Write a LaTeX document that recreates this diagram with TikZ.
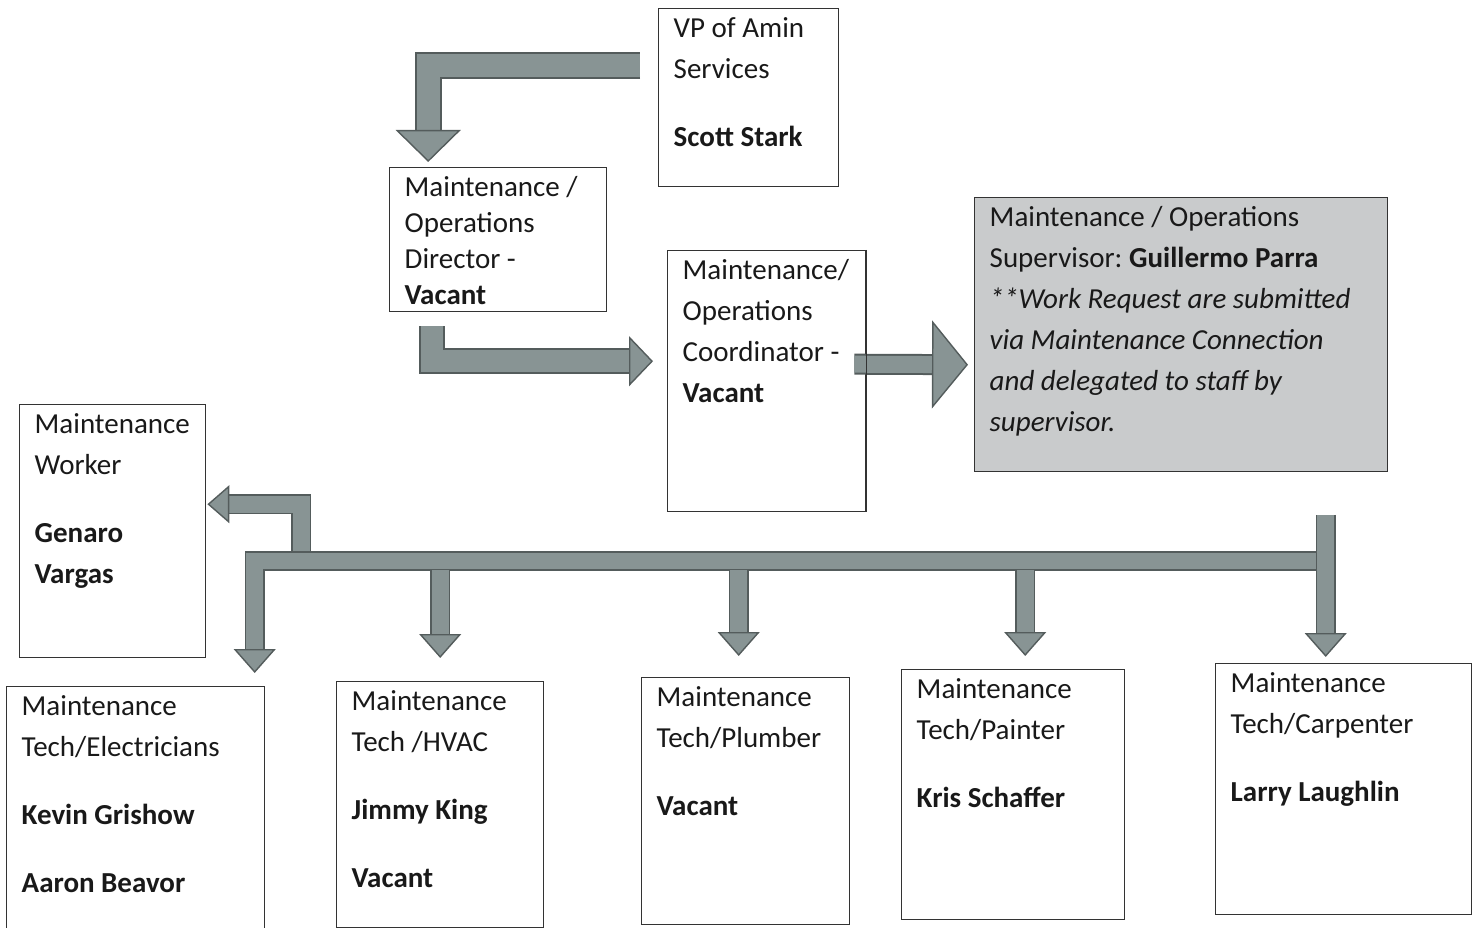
\documentclass[tikz,border=0pt]{standalone}
\usepackage{fontspec}
\setmainfont{Carlito}
\usetikzlibrary{arrows.meta,positioning,calc}

\definecolor{arrowgray}{RGB}{136,148,148}
\definecolor{arrowedge}{RGB}{84,92,92}
\definecolor{supgray}{RGB}{201,203,204}

\newlength{\pxu}
\setlength{\pxu}{0.02cm}
\newcommand{\postfont}{\fontsize{16.5}{23.3}\selectfont}
\newcommand{\namegap}{\\[0.54cm]}
\newcommand{\postbox}[3]{\parbox[t][#2\pxu][t]{#1\pxu}{\raggedright\rule{0pt}{0.58cm}#3}}
\frenchspacing

\begin{document}
\begin{tikzpicture}[
    x=0.02cm, y=-0.02cm,
    post/.style={rectangle, draw=black!80, line width=0.8pt, anchor=north west, inner xsep=0.3cm, inner ysep=0pt, text=black!90, font=\postfont},
    flow/.style n args={4}{draw=arrowgray, line width=#1, line join=miter, -{Triangle[length=#3, width=#4, color=arrowedge, fill=arrowgray, line width=0.8pt]}, preaction={draw=arrowedge, -, line join=miter, line width=#2, shorten >=0.3cm}},
    vpflow/.style={flow={0.46cm}{0.54cm}{0.64cm}{1.3cm}},
    dirflow/.style={flow={0.44cm}{0.52cm}{0.48cm}{1.0cm}},
    coordflow/.style={flow={0.34cm}{0.42cm}{0.72cm}{1.76cm}},
    busflow/.style={flow={0.34cm}{0.40cm}{0.48cm}{0.84cm}},
    workerflow/.style={flow={0.34cm}{0.40cm}{0.44cm}{0.76cm}}
]
    \useasboundingbox (0,0) rectangle (1476,928);

    % Top of the chart
    \node[post] (vp) at (658,8) {\postbox{150}{178}{VP of Amin\\Services\namegap\textbf{Scott Stark}}};
    \node[post, font={\fontsize{16.5}{20.5}\selectfont}] (dir) at (389,167) {\postbox{187}{144}{Maintenance /\\Operations\\Director -\\\textbf{Vacant}}};
    \node[post] (coord) at (667,250) {\postbox{168}{261}{Maintenance/\\Operations\\Coordinator -\\\textbf{Vacant}}};
    \node[post, fill=supgray] (sup) at (974,197) {\postbox{383}{274}{Maintenance / Operations\\Supervisor: \textbf{Guillermo Parra}\\\textit{**Work Request are submitted}\\\textit{via Maintenance Connection}\\\textit{and delegated to staff by}\\\textit{supervisor.}}};

    % Staff
    \node[post] (worker) at (19,404) {\postbox{156}{253}{Maintenance\\Worker\namegap\textbf{Genaro}\\\textbf{Vargas}}};
    \node[post] (elec) at (6,686) {\postbox{228}{244}{Maintenance\\Tech/Electricians\namegap\textbf{Kevin Grishow}\namegap\textbf{Aaron Beavor}}};
    \node[post] (hvac) at (336,681) {\postbox{177}{246}{Maintenance\\Tech /HVAC\namegap\textbf{Jimmy King}\namegap\textbf{Vacant}}};
    \node[post] (plumb) at (641,677) {\postbox{178}{247}{Maintenance\\Tech/Plumber\namegap\textbf{Vacant}}};
    \node[post] (paint) at (901,669) {\postbox{193}{250}{Maintenance\\Tech/Painter\namegap\textbf{Kris Schaffer}}};
    \node[post] (carp) at (1215,663) {\postbox{226}{251}{Maintenance\\Tech/Carpenter\namegap\textbf{Larry Laughlin}}};

    % Chain of command
    \coordinate (vpline) at ($(vp.west)+(-18,-32)$);
    \draw[vpflow] (vpline) -| ($(dir.north)+(-70,-5)$);
    \draw[dirflow] ($(dir.south)+(-66,14)$) |- ($(coord.west)+(-14,-20)$);
    \draw[coordflow] ($(coord.east)+(-12,-17)$) -- ($(sup.west)+(-6,30)$);
    \draw[black!80, line width=0.8pt] (coord.north east) -- (coord.south east);

    % Bus down to the staff
    \coordinate (busend) at ($(carp.north)+(-25,-102)$);
    \draw[busflow] (busend) -| ($(elec.north)+(119,-13)$);
    \draw[busflow] ($(hvac.north)+(0,-111)$) -- ($(hvac.north)+(0,-23)$);
    \draw[busflow] ($(plumb.north)+(-7,-107)$) -- ($(plumb.north)+(-7,-21)$);
    \draw[busflow] ($(paint.north)+(12,-99)$) -- ($(paint.north)+(12,-13)$);
    \draw[busflow] ($(carp.north)+(-18,-148)$) -- ($(carp.north)+(-18,-6)$);
    \draw[workerflow] ($(worker.east)+(95,20)$) |- ($(worker.east)+(1,-27)$);
\end{tikzpicture}
\end{document}
